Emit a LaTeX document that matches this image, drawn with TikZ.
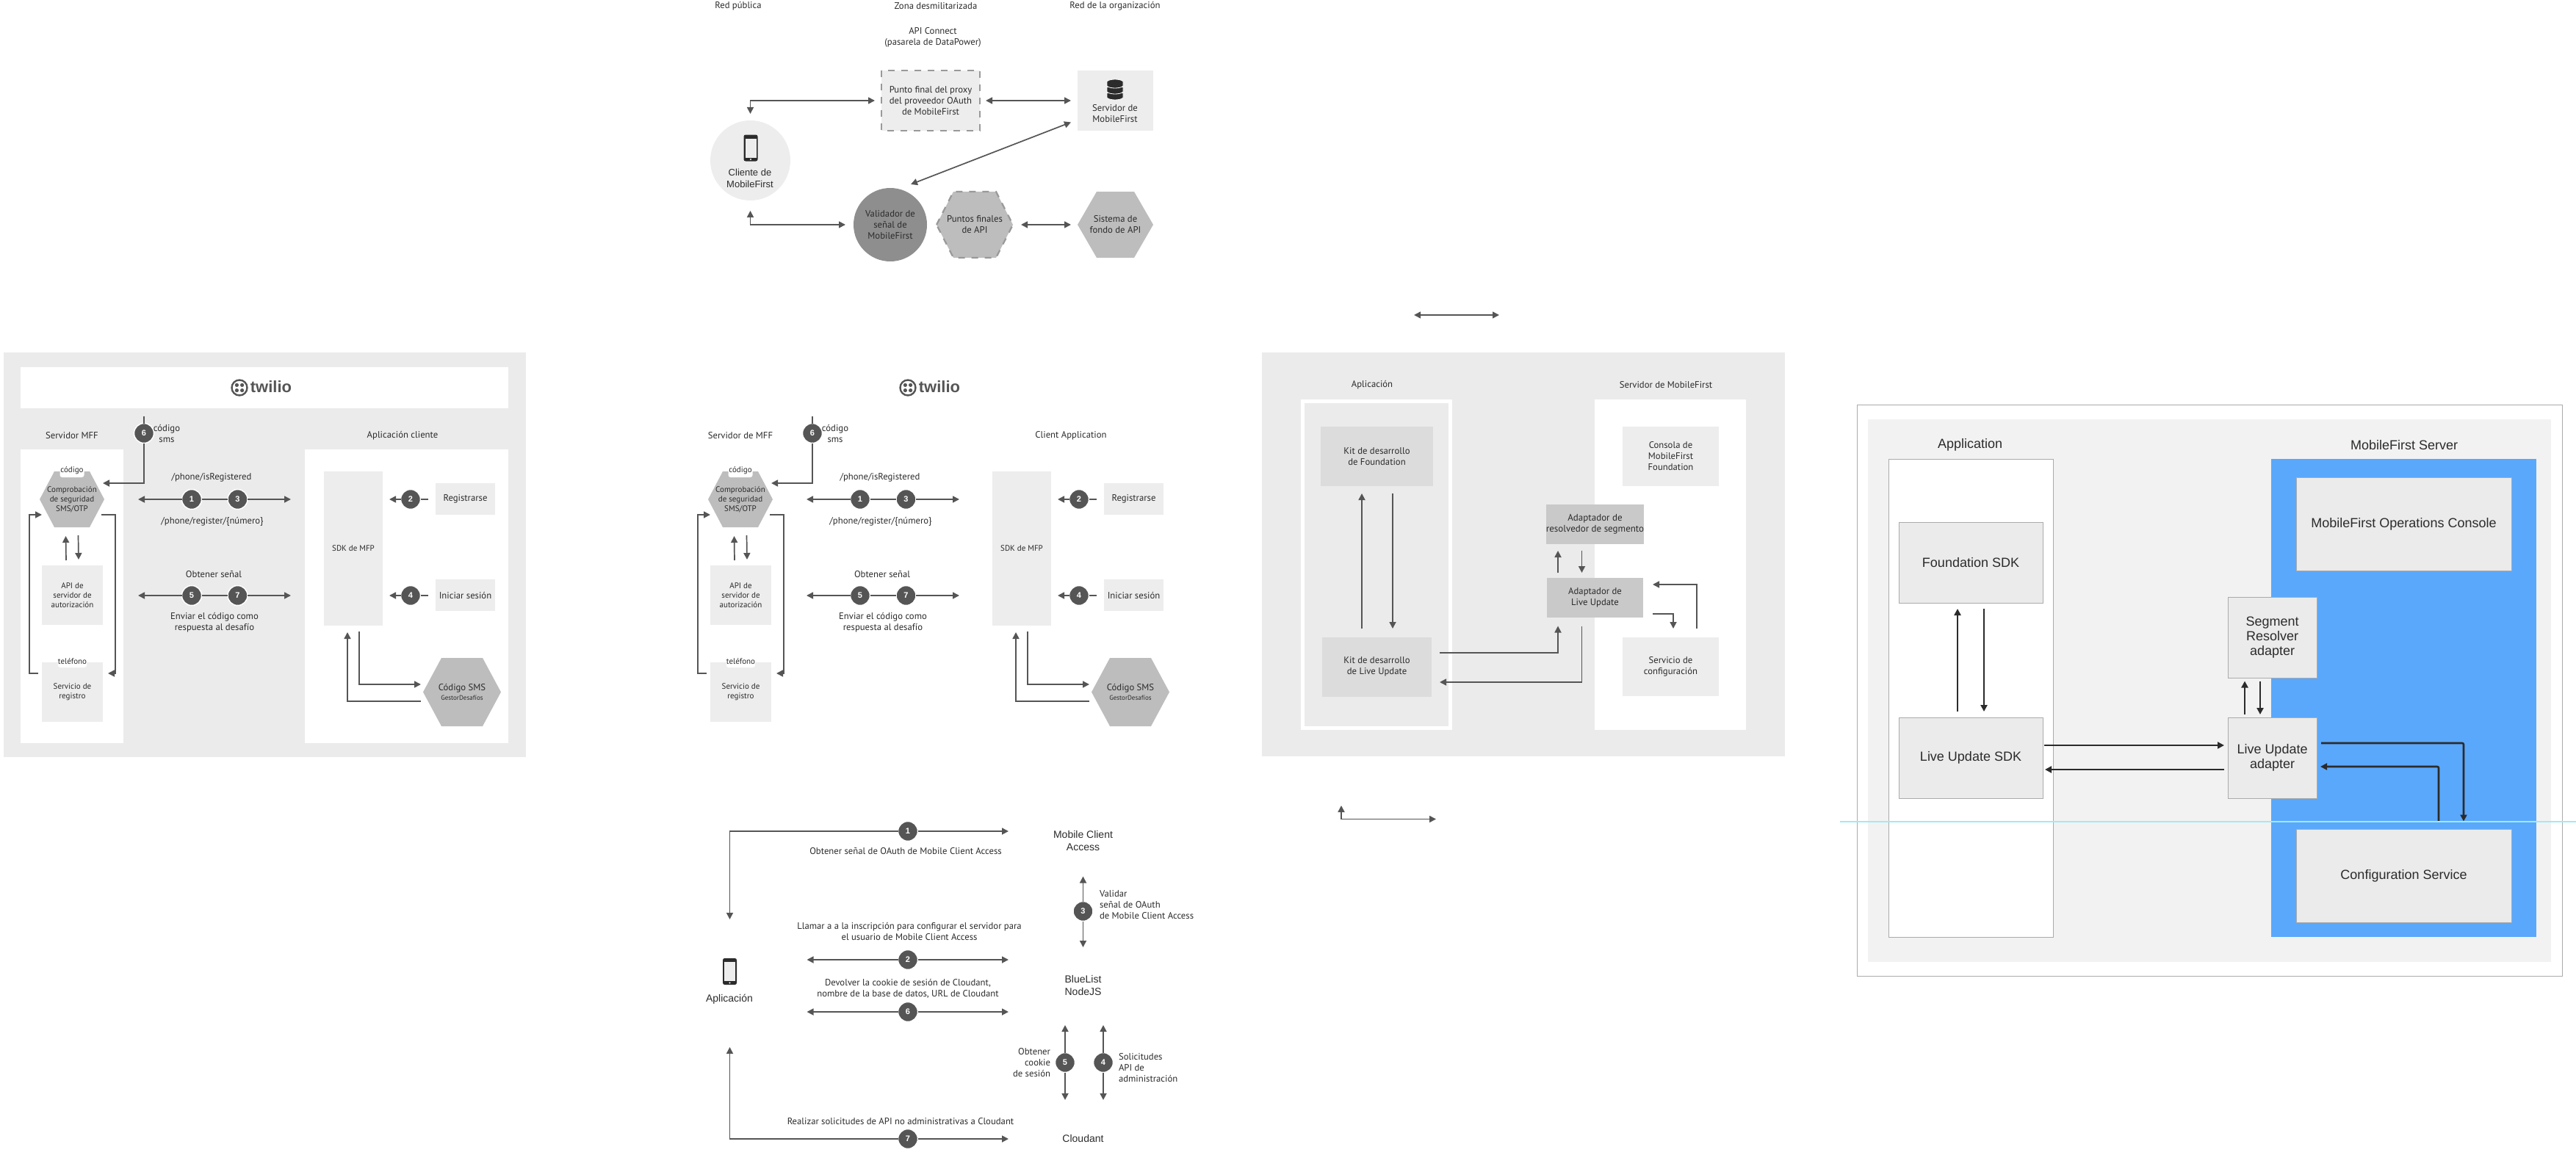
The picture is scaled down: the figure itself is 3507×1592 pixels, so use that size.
\documentclass[tikz,border=0pt]{standalone}
\usepackage{fontspec}
\setmainfont{PT Sans}
\newfontfamily\helv{Liberation Sans}
\usetikzlibrary{arrows.meta}
\definecolor{panelgray}{HTML}{EBEBEB}
\definecolor{boxgray}{HTML}{EDEDED}
\definecolor{kitgray}{HTML}{DCDCDC}
\definecolor{adaptgray}{HTML}{C9C9C9}
\definecolor{hexgray}{HTML}{BDBDBD}
\definecolor{midgray}{HTML}{8E8E8E}
\definecolor{dashgray}{HTML}{999999}
\definecolor{inkgray}{HTML}{2B2B2B}
\definecolor{flowgray}{HTML}{555555}
\definecolor{livebg}{HTML}{F2F2F2}
\definecolor{liveblue}{HTML}{5AA8FB}
\definecolor{liveline}{HTML}{ABABAB}
\definecolor{guideline}{HTML}{9CEBF7}
\tikzset{
  lbl/.style      = {font=\fontsize{12.7}{15}\selectfont},
  smalllbl/.style = {font=\fontsize{11}{13}\selectfont},
  helvlbl/.style  = {font=\helv\fontsize{14}{17}\selectfont},
  livelbl/.style  = {font=\helv\fontsize{18}{20}\selectfont},
  rbox/.style 2 args = {rectangle, minimum width=#1pt, minimum height=#2pt},
  livebox/.style 2 args = {rbox={#1}{#2}, fill=panelgray, draw=liveline,
                           line width=1pt, livelbl},
  flow/.style     = {draw=flowgray, line width=1.7pt},
  liveflow/.style = {draw=inkgray, line width=2.6pt, rounded corners=2pt},
  badge/.style    = {circle, fill=flowgray, draw=white, line width=1.5pt,
                     minimum size=27pt, text=white,
                     font=\helv\bfseries\fontsize{11}{11}\selectfont},
  hexfill/.style  = {fill=hexgray},
  hexdash/.style  = {fill=hexgray, draw=dashgray, line width=2.2pt,
                     dash pattern=on 9pt off 9pt},
  tagbox/.style 2 args = {rbox={#1}{#2}, fill=white, rounded corners=3pt,
                          smalllbl},
}
% cx, cy, half width, half height, inset of the flat edges
\newcommand{\hexa}[6][hexfill]{
  \path[#1] ({#2-#4},#3) -- ({#2-#4+#6},{#3-#5}) -- ({#2+#4-#6},{#3-#5}) --
            ({#2+#4},#3) -- ({#2+#4-#6},{#3+#5}) -- ({#2-#4+#6},{#3+#5}) -- cycle;
}
\newcommand{\phoneicon}[2]{
  \fill[inkgray, rounded corners=2.5pt] ({#1-9.5},{#2-18}) rectangle ({#1+9.5},{#2+18});
  \fill[boxgray] ({#1-7.5},{#2-13}) rectangle ({#1+7.5},{#2+13});
  \fill[white] (#1,{#2+15.5}) circle (1.2pt);
}
% the same flow is printed twice, only its two headings differ
\newcommand{\otpflow}[2]{
    \node[lbl] (srvtitle) at (98,593) {#1};
    \node[lbl] (apptitle) at (548,593) {#2};

    \node[circle, draw=flowgray, line width=2.4pt, minimum size=21pt] (logo) at (326,528) {};
    \foreach \dx in {-1,1} \foreach \dy in {-1,1}
        \fill[flowgray] ({326+3.6*\dx},{528+3.6*\dy}) circle (2.6pt);
    \node[font=\helv\bfseries\fontsize{22}{22}\selectfont, text=flowgray] (twilio) at (369,527) {twilio};

    \hexa{98}{680}{44}{38}{20}
    \node[rbox={88}{76}, smalllbl] (chk) at (98,680) {Comprobación\\de seguridad\\SMS/OTP};
    \node[tagbox={33}{18}] (chktag) at (98,641) {código};
    \node[rbox={83}{81}, fill=boxgray, smalllbl] (api) at (98.5,810.5) {API de\\servidor de\\autorización};
    \node[rbox={83}{81}, fill=boxgray, smalllbl] (reg) at (98.5,942.5) {Servicio de\\registro};
    \node[tagbox={37}{17}] (regtag) at (98.5,900.5) {teléfono};

    \node[rbox={80}{210}, fill=boxgray, smalllbl] (sdk) at (481,747) {SDK de MFP};
    \node[rbox={81}{43}, fill=boxgray, lbl] (signup) at (633.5,679.5) {Registrarse};
    \node[rbox={81}{43}, fill=boxgray, lbl] (login) at (633.5,810.5) {Iniciar sesión};
    \hexa{629}{942.5}{53}{46.5}{25}
    \node[rbox={106}{93}, lbl] (sms) at (629,942.5)
        {Código SMS\\[-2pt]{\fontsize{9}{10}\selectfont GestorDesafíos}};

    \node[badge] (b6) at (196,590) {6};
    \node[badge] (b1) at (261,680) {1};
    \node[badge] (b3) at (323.5,680) {3};
    \node[badge] (b5) at (261,811) {5};
    \node[badge] (b7) at (323.5,811) {7};
    \node[badge] (b2) at (559,680) {2};
    \node[badge] (b4) at (559,811) {4};

    \node[lbl] (smstxt) at (227,590) {código\\sms};
    \node[lbl] (isreg) at (288,650) {/phone/isRegistered};
    \node[lbl] (regnum) at (289,710) {/phone/register/\{número\}};
    \node[lbl] (token) at (291,782) {Obtener señal};
    \node[lbl] (answer) at (292,847.5) {Enviar el código como\\respuesta al desafío};

    \coordinate (smstop) at (196,567);
    \draw[flow] (smstop) -- (b6);
    \draw[flow,->] (b6) |- ([xshift=-2pt,yshift=22pt]chk.east);
    \draw[flow,->] (b1) -- ([xshift=46pt]chk.east);
    \draw[flow] (b1) -- (b3);
    \draw[flow,->,shorten >=45pt] (b3) -- (b3 -| sdk.west);
    \draw[flow,->,shorten >=46pt] (b5) -- (b5 -| chk.east);
    \draw[flow] (b5) -- (b7);
    \draw[flow,->,shorten >=45pt] (b7) -- (b7 -| sdk.west);
    \draw[flow,->,shorten >=9pt] (b2) -- (b2 -| sdk.east);
    \draw[flow,shorten >=10pt] (b2) -- (b2 -| signup.west);
    \draw[flow,->,shorten >=9pt] (b4) -- (b4 -| sdk.east);
    \draw[flow,shorten >=10pt] (b4) -- (b4 -| login.west);
    \draw[flow,->] ([xshift=-8.5pt,yshift=7pt]api.north) -- ([xshift=-8.5pt,yshift=-12pt]chk.south);
    \draw[flow,->] ([xshift=8.5pt,yshift=-11pt]chk.south) -- ([xshift=8.5pt,yshift=8pt]api.north);
    \draw[flow,->] ([xshift=-4pt,yshift=-21pt]chk.east) -- ++(19,0) |- ([xshift=7pt,yshift=25.5pt]reg.east);
    \draw[flow,->] ([xshift=-5pt,yshift=25.5pt]reg.west) -- ++(-12,0) |- ([xshift=3pt,yshift=-21pt]chk.west);
    \draw[flow,->] ([xshift=8pt,yshift=-8pt]sdk.south) |- ([xshift=-3pt,yshift=10.5pt]sms.west);
    \draw[flow,->] ([xshift=-3pt,yshift=-12.5pt]sms.west) -| ([xshift=-8pt,yshift=-9pt]sdk.south);
}

\begin{document}
\begin{tikzpicture}[x=1pt, y=-1pt, >={Triangle[length=9pt,width=9pt]},
    every node/.style={text=inkgray, align=center, inner sep=0pt, outer sep=0pt}]
    \useasboundingbox (0,0) rectangle (3507,1592);

    % gateway picture, top middle
    \node[lbl] (pub) at (1005,8) {Red pública};
    \node[lbl] (dmz) at (1274,8) {Zona desmilitarizada};
    \node[lbl] (org) at (1518,8) {Red de la organización};
    \node[lbl] (gw) at (1270,51) {API Connect\\(pasarela de DataPower)};

    \node[rbox={134}{82}, fill=boxgray, lbl] (oauth) at (1267,137)
        {Punto final del proxy\\del proveedor OAuth\\de MobileFirst};
    \draw[draw=dashgray, line width=2.6pt, dash pattern=on 9pt off 9pt]
        (oauth.north west) rectangle (oauth.south east);
    \node[rbox={103}{81}, fill=boxgray] (srv) at (1518.5,137) {};
    \foreach \yy in {127,119,111}
        \filldraw[fill=inkgray, draw=white, line width=0.8pt]
            (1507,\yy) -- (1507,{\yy+6}) .. controls (1510,{\yy+10}) and (1526,{\yy+10}) ..
            (1529,{\yy+6}) -- (1529,\yy) .. controls (1526,{\yy-4}) and (1510,{\yy-4}) .. (1507,\yy) -- cycle;
    \node[lbl] (srvlbl) at (1518,154.5) {Servidor de\\MobileFirst};
    \node[circle, fill=boxgray, minimum size=109pt] (cli) at (1021.5,218.5) {};
    \phoneicon{1022}{201.5}
    \node[font=\helv\fontsize{13}{16}\selectfont] (clilbl) at (1021,243) {Cliente de\\MobileFirst};
    \node[circle, fill=midgray, minimum size=100pt, lbl] (val) at (1212,306)
        {Validador de\\señal de\\MobileFirst};
    \hexa[hexdash]{1327}{306}{52}{45}{23}
    \node[rbox={104}{90}, lbl] (pts) at (1327,306) {Puntos finales\\de API};
    \hexa{1518.5}{306}{51.5}{45}{26}
    \node[rbox={103}{90}, lbl] (sist) at (1518.5,306) {Sistema de\\fondo de API};

    \draw[flow,<->] ([yshift=9pt]cli.north) |- ([xshift=-9pt]oauth.west);
    \draw[flow,<->] ([yshift=-14pt]cli.south) |- ([xshift=-11pt]val.west);
    \draw[flow,<->] ([xshift=8pt]oauth.east) -- ([xshift=-9pt]srv.west);
    \draw[flow,<->] ([xshift=-9pt,yshift=-29.5pt]srv.west) -- ([xshift=28pt,yshift=55pt]val.center);
    \draw[flow,<->] ([xshift=11pt]pts.east) -- ([xshift=-9pt]sist.west);

    % SMS flow, once on its grey panel and once without it
    \fill[panelgray] (5,480) rectangle (716,1031);
    \fill[white] (28,500) rectangle (692,556);
    \fill[white] (28,612) rectangle (168,1012);
    \fill[white] (415,612) rectangle (692,1012);
    \begin{scope}[name prefix=a-]
        \otpflow{Servidor MFF}{Aplicación cliente}
    \end{scope}
    \begin{scope}[xshift=910pt, name prefix=c-]
        \otpflow{Servidor de MFF}{Client Application}
    \end{scope}

    % live update, spanish
    \coordinate (strayl) at (1925,429);
    \coordinate (strayr) at (2041,429);
    \draw[flow,<->] (strayl) -- (strayr);
    \coordinate (strayu) at (1826,1097);
    \coordinate (strayc) at (1955,1115.5);
    \draw[flow,<->] (strayu) |- (strayc);

    \fill[panelgray] (1718,480) rectangle (2430,1030);
    \fill[white] (1771,544) rectangle (1977,994);
    \fill[panelgray] (1776,549) rectangle (1972,989);
    \fill[white] (2171,544) rectangle (2377,994);
    \node[lbl] (esapp) at (1868,524) {Aplicación};
    \node[lbl] (essrv) at (2268,524) {Servidor de MobileFirst};
    \node[rbox={153}{81}, fill=kitgray, lbl] (kitf) at (1874.5,621.5) {Kit de desarrollo\\de Foundation};
    \node[rbox={149}{81}, fill=kitgray, lbl] (kitl) at (1874.5,908) {Kit de desarrollo\\de Live Update};
    \node[rbox={131}{81}, fill=boxgray, lbl] (cons) at (2274.5,621.5) {Consola de\\MobileFirst\\Foundation};
    \node[rbox={131}{54}, fill=adaptgray, font=\fontsize{13}{15}\selectfont] (seg) at (2171.5,714) {Adaptador de\\resolvedor de segmento};
    \node[rbox={131}{54}, fill=adaptgray, lbl] (luad) at (2171.5,814) {Adaptador de\\Live Update};
    \node[rbox={131}{80}, fill=boxgray, lbl] (conf) at (2274.5,907.5) {Servicio de\\configuración};

    \draw[flow,->] ([xshift=-20.5pt,yshift=11.5pt]kitl.north) -- ([xshift=-20.5pt,yshift=-10pt]kitf.south);
    \draw[flow,->] ([xshift=21.5pt,yshift=-10pt]kitf.south) -- ([xshift=21.5pt,yshift=11.5pt]kitl.north);
    \draw[flow,->] ([xshift=-50.5pt,yshift=7pt]luad.north) -- ([xshift=-50.5pt,yshift=-9pt]seg.south);
    \draw[flow,->] ([xshift=-18pt,yshift=-8.5pt]seg.south) -- ([xshift=-18pt,yshift=7pt]luad.north);
    \draw[flow,->] ([xshift=11pt,yshift=19pt]kitl.east) -| ([xshift=-50.5pt,yshift=-11.5pt]luad.south);
    \draw[flow,->] ([xshift=-18pt,yshift=-11.5pt]luad.south) |- ([xshift=11pt,yshift=-21pt]kitl.east);
    \draw[flow,->] ([xshift=35.5pt,yshift=11.5pt]conf.north) |- ([xshift=13pt,yshift=18pt]luad.east);
    \draw[flow,->] ([xshift=13pt,yshift=-22pt]luad.east) -| ([xshift=3.5pt,yshift=11.5pt]conf.north);

    % live update, english
    \filldraw[fill=white, draw=liveline, line width=1pt] (2528,551) rectangle (3488,1329);
    \fill[livebg] (2543,571) rectangle (3473,1310);
    \filldraw[fill=white, draw=liveline, line width=1pt] (2571,625) rectangle (2795,1276);
    \fill[liveblue] (3092,625) rectangle (3453,1276);
    \node[livelbl] (enapp) at (2682,606) {Application};
    \node[livelbl] (ensrv) at (3273,606) {MobileFirst Server};
    \node[livebox={196}{110}] (fsdk) at (2683,766) {Foundation SDK};
    \node[livebox={196}{110}] (lsdk) at (2683,1032) {Live Update SDK};
    \node[livebox={293}{127}] (opcon) at (3272.5,713.5) {MobileFirst Operations Console};
    \node[livebox={121}{110}] (segr) at (3093.5,868) {Segment\\Resolver\\adapter};
    \node[livebox={121}{110}] (lua) at (3093.5,1032) {Live Update\\adapter};
    \node[livebox={293}{127}] (cfg) at (3272.5,1193) {Configuration Service};

    \draw[liveflow,->] ([xshift=-18pt,yshift=8pt]lsdk.north) -- ([xshift=-18pt,yshift=-8pt]fsdk.south);
    \draw[liveflow,->] ([xshift=18pt,yshift=-8pt]fsdk.south) -- ([xshift=18pt,yshift=8pt]lsdk.north);
    \draw[liveflow,->] ([xshift=-37.5pt,yshift=4pt]lua.north) -- ([xshift=-37.5pt,yshift=-4.5pt]segr.south);
    \draw[liveflow,->] ([xshift=-16.5pt,yshift=-4.5pt]segr.south) -- ([xshift=-16.5pt,yshift=4pt]lua.north);
    \draw[liveflow,->] ([xshift=2pt,yshift=17pt]lsdk.east) -- ([xshift=-5pt,yshift=17pt]lua.west);
    \draw[liveflow,->] ([xshift=-5pt,yshift=-16pt]lua.west) -- ([xshift=3pt,yshift=-16pt]lsdk.east);
    \draw[liveflow,->] ([xshift=6pt,yshift=20pt]lua.east) -| ([xshift=81.5pt,yshift=11pt]cfg.north);
    \draw[liveflow,->] ([xshift=47.5pt,yshift=11pt]cfg.north) |- ([xshift=5pt,yshift=-12pt]lua.east);
    \draw[guideline, line width=1.5pt] (2505,1119) -- (3507,1119);

    % cloudant sequence, bottom middle
    \coordinate (phn) at (993.5,1323);
    \phoneicon{993.5}{1323}
    \node[helvlbl] (seqapp) at (993,1361) {Aplicación};
    \node[helvlbl] (mca) at (1474.5,1144.5) {Mobile Client\\Access};
    \node[helvlbl] (bln) at (1474.5,1342) {BlueList\\NodeJS};
    \node[helvlbl] (cld) at (1474.5,1550) {Cloudant};

    \node[badge] (s1) at (1236,1132) {1};
    \node[badge] (s2) at (1236,1307) {2};
    \node[badge] (s6) at (1236,1378) {6};
    \node[badge] (s7) at (1236,1551) {7};
    \node[badge] (s3) at (1474.5,1241) {3};
    \node[badge] (s5) at (1450,1447) {5};
    \node[badge] (s4) at (1502,1447) {4};

    \node[lbl] (t1) at (1233,1159) {Obtener señal de OAuth de Mobile Client Access};
    \node[lbl] (t2) at (1238,1268) {Llamar a a la inscripción para configurar el servidor para\\el usuario de Mobile Client Access};
    \node[lbl] (t6) at (1236,1346.5) {Devolver la cookie de sesión de Cloudant,\\nombre de la base de datos, URL de Cloudant};
    \node[lbl] (t7) at (1226,1527) {Realizar solicitudes de API no administrativas a Cloudant};
    \node[lbl, anchor=west, align=left] (t3) at (1497,1232) {Validar\\señal de OAuth\\de Mobile Client Access};
    \node[lbl, anchor=east, align=right] (t5) at (1430,1447.5) {Obtener\\cookie\\de sesión};
    \node[lbl, anchor=west, align=left] (t4) at (1523,1454.5) {Solicitudes\\API de\\administración};

    \draw[flow,<-] ([yshift=71pt]phn) |- (s1);
    \draw[flow,->,shorten >=101.5pt] (s1) -- (s1 -| mca);
    \draw[flow,->,shorten >=105pt] (s2) -- (s2 -| phn);
    \draw[flow,->,shorten >=101.5pt] (s2) -- (s2 -| mca);
    \draw[flow,->,shorten >=105pt] (s6) -- (s6 -| phn);
    \draw[flow,->,shorten >=101.5pt] (s6) -- (s6 -| mca);
    \draw[flow,<-] ([yshift=-103pt]phn) |- (s7);
    \draw[flow,->,shorten >=101.5pt] (s7) -- (s7 -| cld);
    \draw[flow,->] (s3) -- ([yshift=-49pt]mca.center);
    \draw[flow,->] (s3) -- ([yshift=52pt]bln.center);
    \draw[flow,->,shorten >=54pt] (s5) -- (s5 |- bln);
    \draw[flow,->,shorten >=52pt] (s5) -- (s5 |- cld);
    \draw[flow,->,shorten >=54pt] (s4) -- (s4 |- bln);
    \draw[flow,->,shorten >=52pt] (s4) -- (s4 |- cld);
\end{tikzpicture}
\end{document}
